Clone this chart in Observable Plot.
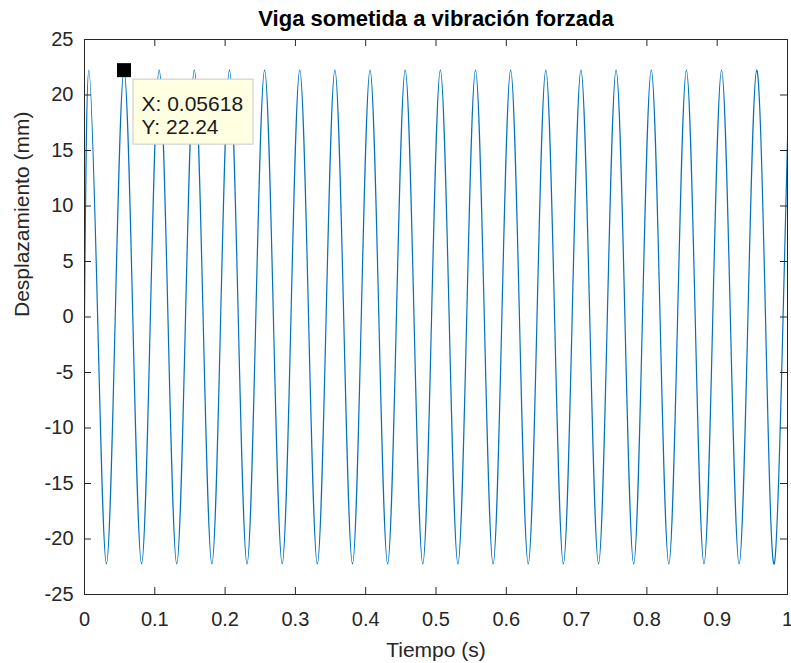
<!DOCTYPE html>
<html><head><meta charset="utf-8">
<script src="https://cdn.jsdelivr.net/npm/d3@7"></script>
<script src="https://cdn.jsdelivr.net/npm/@observablehq/plot@0.6"></script>
<style>body{margin:0;background:#fff} svg{display:block}</style>
</head><body><div id="chart"></div>
<script>
const titulo = "Viga sometida a vibración forzada";
const etiquetaX = "Tiempo (s)";
const etiquetaY = "Desplazamiento (mm)";

// Picos, cruces por cero y valles
const tiempo = [
  0,
  0.0062, 0.0187, 0.0312, 0.0437,
  0.0562, 0.0687, 0.0812, 0.0937,
  0.1062, 0.1187, 0.1312, 0.1437,
  0.1562, 0.1687, 0.1812, 0.1937,
  0.2062, 0.2187, 0.2312, 0.2437,
  0.2562, 0.2687, 0.2812, 0.2937,
  0.3062, 0.3187, 0.3312, 0.3437,
  0.3562, 0.3687, 0.3812, 0.3937,
  0.4062, 0.4187, 0.4312, 0.4437,
  0.4562, 0.4687, 0.4812, 0.4937,
  0.5062, 0.5187, 0.5312, 0.5437,
  0.5562, 0.5687, 0.5812, 0.5937,
  0.6062, 0.6187, 0.6312, 0.6437,
  0.6562, 0.6687, 0.6812, 0.6937,
  0.7062, 0.7187, 0.7312, 0.7437,
  0.7562, 0.7687, 0.7812, 0.7937,
  0.8062, 0.8187, 0.8312, 0.8437,
  0.8562, 0.8687, 0.8812, 0.8937,
  0.9062, 0.9187, 0.9312, 0.9437,
  0.9562, 0.9687, 0.9812, 0.9937,
  1.0
];
const desplazamiento = [
  0,
  22.24, 0, -22.24, 0,
  22.24, 0, -22.24, 0,
  22.24, 0, -22.24, 0,
  22.24, 0, -22.24, 0,
  22.24, 0, -22.24, 0,
  22.24, 0, -22.24, 0,
  22.24, 0, -22.24, 0,
  22.24, 0, -22.24, 0,
  22.24, 0, -22.24, 0,
  22.24, 0, -22.24, 0,
  22.24, 0, -22.24, 0,
  22.24, 0, -22.24, 0,
  22.24, 0, -22.24, 0,
  22.24, 0, -22.24, 0,
  22.24, 0, -22.24, 0,
  22.24, 0, -22.24, 0,
  22.24, 0, -22.24, 0,
  22.24, 0, -22.24, 0,
  22.24, 0, -22.24, 0,
  22.24, 0, -22.24, 0,
  15.9
];
const xTicks = [0, 0.1, 0.2, 0.3, 0.4, 0.5, 0.6, 0.7, 0.8, 0.9, 1];
const yTicks = [-25, -20, -15, -10, -5, 0, 5, 10, 15, 20, 25];
const tipTiempo = [0.05618];
const tipDesplazamiento = [22.24];
const tipTexto = ["X: 0.05618", "Y: 22.24"];

const datos = tiempo.map((t, i) => ({t, y: desplazamiento[i]}));
const tip = tipTiempo.map((t, i) => ({t, y: tipDesplazamiento[i]}));
const W = 791, H = 663;
const mL = 84, mR = 4, mT = 39, mB = 69;
const fw = W - mL - mR, fh = H - mT - mB;
const axisColor = "#262626";
const fmt = d => String(d);
const font = "'Liberation Sans', Arial, Helvetica, sans-serif";

const chart = Plot.plot({
  width: W, height: H,
  marginLeft: mL, marginRight: mR, marginTop: mT, marginBottom: mB,
  style: {fontFamily: font, background: "#fff", color: axisColor},
  x: {domain: [0, 1], label: null},
  y: {domain: [-25, 25], label: null},
  marks: [
    Plot.line(datos, {x: "t", y: "y", stroke: "#0072BD", strokeWidth: 1.2, curve: "natural", clip: true}),
    Plot.tickX(xTicks, {x: d => d, stroke: axisColor, insetTop: fh - 7}),
    Plot.tickX(xTicks, {x: d => d, stroke: axisColor, insetBottom: fh - 7}),
    Plot.tickY(yTicks, {y: d => d, stroke: axisColor, insetRight: fw - 7}),
    Plot.tickY(yTicks, {y: d => d, stroke: axisColor, insetLeft: fw - 7}),
    Plot.frame({stroke: axisColor, strokeWidth: 1}),
    Plot.axisX({ticks: xTicks, tickSize: 0, tickPadding: 17, tickFormat: fmt, fontSize: 20, label: null}),
    Plot.axisY({ticks: yTicks, tickSize: 0, tickPadding: 11, tickFormat: fmt, fontSize: 20, label: null}),
    Plot.dot(tip, {x: "t", y: "y", symbol: "square", r: 7.9, fill: "#000", stroke: "none"}),
    Plot.text([titulo], {frameAnchor: "top", dy: -21, lineAnchor: "middle", fontSize: 22, fontWeight: "bold", fill: "#000"}),
    Plot.text([etiquetaX], {frameAnchor: "bottom", dy: 56, lineAnchor: "middle", fontSize: 21, fill: axisColor}),
    Plot.text([etiquetaY], {frameAnchor: "left", dx: -62, rotate: -90, lineAnchor: "middle", fontSize: 21, fill: axisColor})
  ]
});
document.getElementById("chart").appendChild(chart);

const svgEl = chart.tagName.toLowerCase() === "svg" ? chart : chart.querySelector("svg");
const sx = chart.scale("x"), sy = chart.scale("y");
const px = sx.apply(tipTiempo[0]), py = sy.apply(tipDesplazamiento[0]);
const g = d3.select(svgEl).append("g").attr("text-anchor", "start");
g.append("rect")
  .attr("x", px + 9.5).attr("y", py + 9.5)
  .attr("width", 120).attr("height", 65)
  .attr("fill", "#ffffe1").attr("stroke", "#c8c8c8").attr("stroke-width", 1);
tipTexto.forEach((s, i) => {
  g.append("text")
    .attr("x", px + 18).attr("y", py + 41 + i * 23.5)
    .attr("text-anchor", "start")
    .attr("font-family", font).attr("font-size", 21)
    .attr("fill", "#1a1a1a").text(s);
});
</script>
</body></html>
